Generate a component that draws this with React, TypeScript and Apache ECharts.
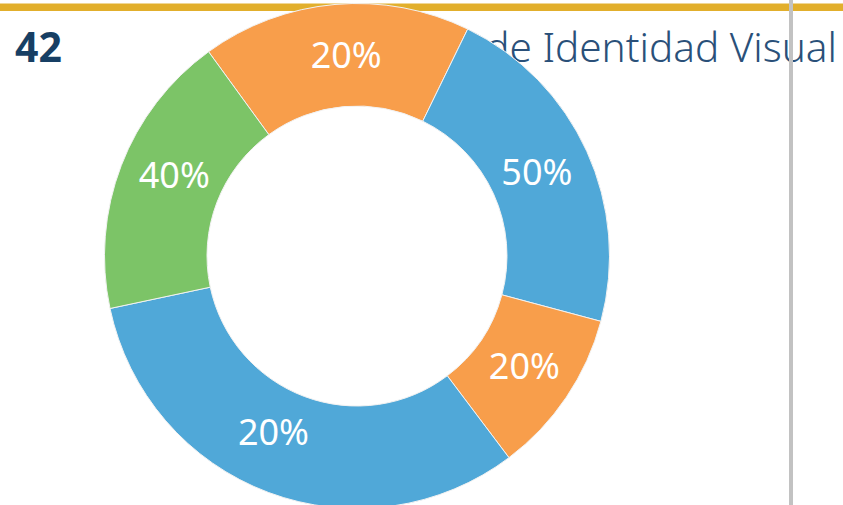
import React, { useEffect, useRef } from "react";
import * as echarts from "echarts";

// Slices in clockwise order starting from the top-left boundary
const sliceNames = ["A", "B", "C", "D", "E"];
const sliceValues = [62, 79, 38, 115, 66];
const sliceLabels = ["20%", "50%", "20%", "20%", "40%"];
const sliceColors = ["#F89E4B", "#50A8D8", "#F89E4B", "#50A8D8", "#7CC467"];
const labelOffsets = [[7, 2], [-6, 0], [-2, -5], [-12, -16], [8, -8]];

const pageNumber = "42";
const headerTitle = "Manual de Identidad Visual";

export default function App() {
  const ref = useRef<HTMLDivElement>(null);

  useEffect(() => {
    if (!ref.current) return;
    const chart = echarts.init(ref.current, undefined, { renderer: "svg" });
    chart.setOption({
      animation: false,
      backgroundColor: "#ffffff",
      graphic: [
        {
          type: "rect",
          z: 0,
          shape: { x: 0, y: 3.5, width: 843, height: 7.5 },
          style: { fill: "#E2AF2C" },
        },
        {
          type: "text",
          z: 0,
          x: 15,
          y: 46,
          style: {
            text: pageNumber,
            font: "bold 41px 'Noto Sans'",
            fill: "#173F64",
            textAlign: "left",
            textVerticalAlign: "middle",
          },
        },
        {
          type: "text",
          z: 0,
          x: 837,
          y: 46,
          style: {
            text: headerTitle,
            font: "300 40.5px 'Noto Sans'",
            fill: "#2A5079",
            textAlign: "right",
            textVerticalAlign: "middle",
          },
        },
        {
          type: "rect",
          z: 100,
          shape: { x: 789, y: 0, width: 4, height: 505 },
          style: { fill: "#C2C2C2" },
        },
      ],
      series: [
        {
          type: "pie",
          z: 5,
          center: [357, 256],
          radius: [150, 252.5],
          startAngle: 126,
          clockwise: true,
          avoidLabelOverlap: false,
          itemStyle: { borderColor: "#F2F2F2", borderWidth: 1 },
          label: {
            show: true,
            position: "inside",
            color: "#ffffff",
            fontSize: 36,
            fontFamily: "'Noto Sans'",
            formatter: (p: any) => sliceLabels[p.dataIndex],
          },
          labelLine: { show: false },
          emphasis: { disabled: true },
          data: sliceValues.map((v, i) => ({
            name: sliceNames[i],
            value: v,
            itemStyle: { color: sliceColors[i] },
            label: { offset: labelOffsets[i] },
          })),
        },
      ],
    });
    return () => chart.dispose();
  }, []);

  return (
    <div
      ref={ref}
      style={{ position: "fixed", left: 0, top: 0, width: 843, height: 505 }}
    />
  );
}
